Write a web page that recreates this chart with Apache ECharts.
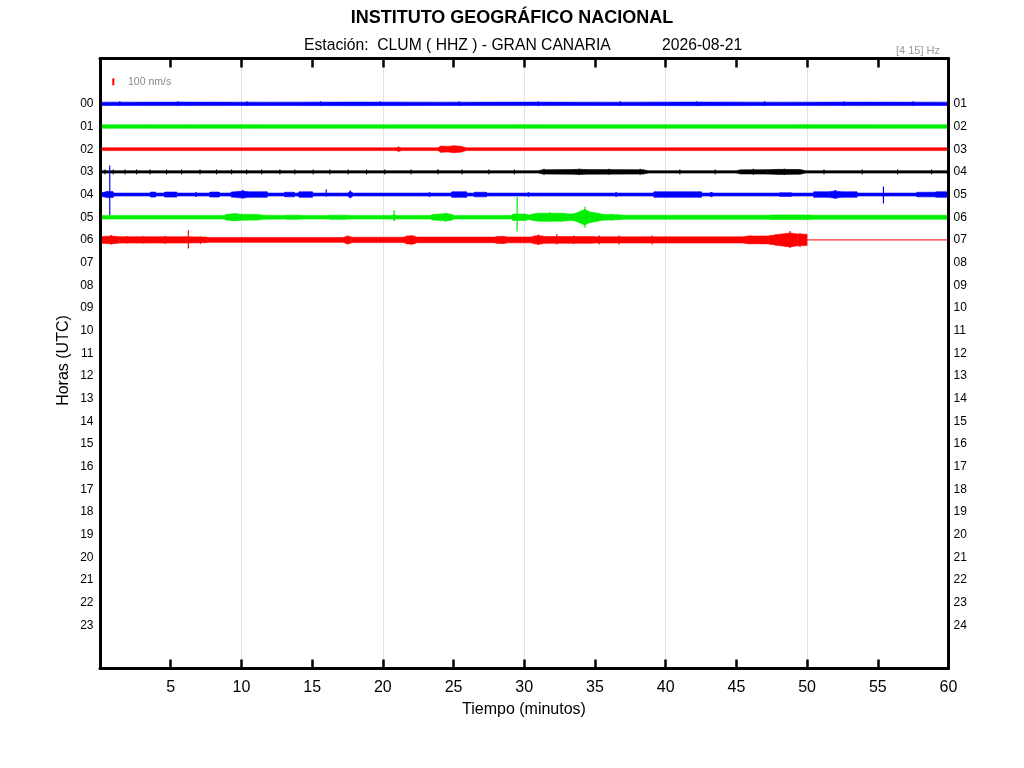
<!DOCTYPE html>
<html>
<head>
<meta charset="utf-8">
<script src="https://cdn.jsdelivr.net/npm/echarts/dist/echarts.min.js"></script>
<style>html,body{margin:0;padding:0;background:#fff}#c{width:1024px;height:768px}</style>
</head>
<body>
<div id="c"></div>
<script>
// ---- tick labels ----
const HOURS_LEFT = ['00','01','02','03','04','05','06','07','08','09','10','11','12','13','14','15','16','17','18','19','20','21','22','23'];
const HOURS_RIGHT = ['01','02','03','04','05','06','07','08','09','10','11','12','13','14','15','16','17','18','19','20','21','22','23','24'];

// ---- trace envelopes (dense core): [minute, upAmp nm/s, downAmp nm/s (optional)] ----
const ENV_00 = [[0,24],[6,25],[12,24],[18,26],[24,24],[30,25],[36,24],[42,26],[48,24],[54,25],[60,24]];
const ENV_01 = [[0,25],[10,26],[20,25],[30,26],[40,25],[50,26],[60,25]];
const ENV_02 = [[0,20],[21.0,20],[21.1,33],[21.3,20],[23.9,20],[24.1,45],[24.6,40],[25.0,50],[25.5,42],[25.9,20],[60,20]];
const ENV_03 = [[0,17],[31,17],[31.3,30],[33.4,33],[33.9,38],[34.3,33],[38.4,31],[38.8,17],[45,17],[45.3,29],[47.2,32],[48,36],[49.5,33],[49.9,17],[60,17]];
const ENV_04 = [[0,21],[0.5,43],[0.9,43],[1.0,21],[3.5,21],[3.6,36],[3.9,36],[4.0,21],[4.5,21],[4.6,36],[5.4,36],[5.5,21],[6.7,21],[6.8,29],[6.9,21],[7.7,21],[7.8,36],[8.4,36],[8.5,21],[9.2,21],[9.3,36],[10.1,50],[10.5,40],[11.8,40],[11.9,21],[13.0,21],[13.1,33],[13.7,33],[13.8,21],[14.0,21],[14.1,40],[15.0,40],[15.1,21],[17.5,21],[17.7,45],[17.9,21],[23.2,21],[23.3,29],[23.4,21],[24.8,21],[24.9,40],[25.9,40],[26.0,21],[26.4,21],[26.5,33],[27.3,33],[27.4,21],[30.2,21],[30.3,29],[30.4,21],[36.4,21],[36.5,29],[36.6,21],[39.1,21],[39.2,40],[42.5,40],[42.6,21],[43.1,21],[43.2,33],[43.4,21],[48.0,21],[48.1,27],[48.8,27],[49.0,21],[50.4,21],[50.5,40],[51.5,40],[52.0,52],[52.4,40],[53.5,40],[53.6,21],[57.7,21],[57.8,33],[59.0,33],[59.2,40],[60,40]];
const ENV_05 = [[0,26],[8.8,26],[8.9,40],[9.4,50],[9.7,50],[9.9,43],[11.2,40],[11.5,30],[13.1,26],[13.2,30],[14.1,30],[14.2,26],[16.2,26],[16.3,30],[17.4,30],[17.5,26],[20.7,26],[20.8,43],[20.9,26],[23.4,26],[23.5,40],[24.5,52],[24.9,40],[25.0,26],[29.1,26],[29.2,45],[30.1,45],[30.3,32],[30.6,45],[31.0,57],[32.6,57],[33.3,45],[33.6,55],[33.9,78],[34.27,112],[34.6,80],[35.0,64],[35.3,52],[35.5,42],[36.7,35],[37.0,29],[47.4,29],[47.5,33],[50.2,33],[50.3,29],[60,29]];
const ENV_06 = [[0,45],[0.8,57],[1.4,45],[6.1,45],[7.5,40],[7.6,35],[17.2,35],[17.4,50],[17.7,50],[17.8,38],[21.5,38],[21.7,57],[22.2,57],[22.4,40],[27.9,40],[28.1,50],[28.6,50],[28.8,42],[30.5,42],[30.7,55],[31.0,62],[31.5,48],[34.8,48],[35.0,44],[45.5,44],[45.8,55],[47.3,57],[47.8,75],[48.8,100],[49.3,85],[50.0,80]];

// ---- isolated spikes / peaks: [minute, upAmp nm/s, downAmp nm/s] ----
const SPK_00 = [[1.4,36,29],[5.5,36,29],[10.4,36,29],[15.6,36,29],[19.8,36,29],[25.4,36,29],[31.0,36,29],[36.8,36,29],[42.2,36,29],[47.0,36,29],[52.6,36,29],[57.5,36,29]];
const SPK_03 = [[0.35,33,33],[0.94,33,33],[1.77,33,33],[2.59,33,33],[3.53,33,33],[4.71,33,33],[5.77,33,33],[7.07,33,33],[8.24,33,33],[9.3,33,33],[10.37,33,33],[11.43,33,33],[12.72,33,33],[13.78,33,33],[15.08,33,33],[16.25,33,33],[17.55,33,33],[18.85,33,33],[20.14,33,33],[22.0,33,33],[23.9,36,33],[25.6,33,33],[27.5,33,33],[29.3,33,33],[31.4,43,40],[33.9,45,43],[36.0,43,40],[38.2,43,40],[41.0,33,33],[43.5,33,33],[46.2,43,40],[48.4,45,43],[51.2,33,33],[53.9,33,33],[56.4,33,33],[58.8,33,33]];
const SPK_04 = [[0.69,415,300],[10.1,64,57],[16.0,71,29],[17.7,57,50],[52.0,64,64],[55.4,114,129]];
const SPK_05 = [[20.8,100,57],[24.45,64,64],[29.5,292,204],[31.8,71,64],[32.8,64,57],[34.3,150,150],[36.2,50,50]];
const SPK_06 = [[0.8,71,64],[1.9,57,50],[3.1,57,50],[4.6,57,57],[6.25,139,124],[7.1,50,57],[17.5,64,64],[22.0,71,71],[28.5,57,57],[31.0,79,71],[32.3,86,64],[33.5,64,57],[35.3,64,64],[36.7,64,64],[39.05,64,64],[46.0,64,57],[47.4,71,64],[48.8,129,114],[49.5,100,100]];

// ---- flat remainder of hour 06 (no data yet) ----
const TAIL_06 = [[50,6],[60,6]];

const TRACES = [
  {row:0, env:ENV_00, spk:SPK_00},
  {row:1, env:ENV_01, spk:[]},
  {row:2, env:ENV_02, spk:[]},
  {row:3, env:ENV_03, spk:SPK_03},
  {row:4, env:ENV_04, spk:SPK_04},
  {row:5, env:ENV_05, spk:SPK_05},
  {row:6, env:ENV_06, spk:SPK_06}
];
const TRACE_COLORS = ['#0000ff','#00ee00','#ff0000','#000000','#0000ff','#00ee00','#ff0000'];
const NMS_PER_ROW = 324; // 100 nm/s bar = 7 px, one hour row = 22.68 px

const FONT = "'Liberation Sans', Arial, Helvetica, sans-serif";

function envSeries(env, row, color) {
  const data = [];
  for (let i = 0; i < env.length - 1; i++) {
    const a = env[i], b = env[i + 1];
    data.push([a[0], b[0], row, a[1], a.length > 2 ? a[2] : a[1], b[1], b.length > 2 ? b[2] : b[1]]);
  }
  return {
    type: 'custom', xAxisIndex: 0, yAxisIndex: 0, silent: true, clip: true, z: 2,
    encode: {x: [0, 1], y: 2},
    data: data,
    renderItem: function (params, api) {
      const t0 = api.value(0), t1 = api.value(1), r = api.value(2);
      const u0 = api.value(3) / NMS_PER_ROW, d0 = api.value(4) / NMS_PER_ROW;
      const u1 = api.value(5) / NMS_PER_ROW, d1 = api.value(6) / NMS_PER_ROW;
      const pts = [api.coord([t0, r - u0]), api.coord([t1, r - u1]), api.coord([t1, r + d1]), api.coord([t0, r + d0])];
      return {type: 'polygon', shape: {points: pts}, style: {fill: color, stroke: color, lineWidth: 0.6}};
    }
  };
}
function spikeSeries(spk, row, color) {
  return {
    type: 'custom', xAxisIndex: 0, yAxisIndex: 0, silent: true, clip: true, z: 2,
    encode: {x: 0, y: 1},
    data: spk.map(s => [s[0], row, s[1], s[2]]),
    renderItem: function (params, api) {
      const t = api.value(0), r = api.value(1);
      const p1 = api.coord([t, r - api.value(2) / NMS_PER_ROW]);
      const p2 = api.coord([t, r + api.value(3) / NMS_PER_ROW]);
      return {type: 'line', shape: {x1: p1[0], y1: p1[1], x2: p2[0], y2: p2[1]}, style: {stroke: color, lineWidth: 1.2}};
    }
  };
}

const series = [];
TRACES.forEach((tr, i) => {
  series.push(envSeries(tr.env, tr.row, TRACE_COLORS[i]));
  if (tr.spk.length) series.push(spikeSeries(tr.spk, tr.row, TRACE_COLORS[i]));
});
series.push({type: 'line', xAxisIndex: 0, yAxisIndex: 0, data: TAIL_06, symbol: 'none', silent: true, z: 2,
  lineStyle: {color: '#ff0000', width: 1}});

function hourLabel(arr) {
  return function (v) {
    const k = Math.round(v);
    if (Math.abs(v - k) > 1e-6 || k < 0 || k >= arr.length) return '';
    return arr[k];
  };
}

const FRAME = {show: true, onZero: false, lineStyle: {color: '#000', width: 3}};
const TICK = {show: true, inside: true, length: 9, lineStyle: {color: '#000', width: 2.5}};

const chart = echarts.init(document.getElementById('c'), null, {renderer: 'canvas'});
chart.setOption({
  animation: false,
  backgroundColor: '#ffffff',
  grid: {left: 100, right: 75.5, top: 58.5, bottom: 99.5, show: false},
  xAxis: [
    {type: 'value', position: 'bottom', min: 0, max: 60, interval: 5, z: 10,
      axisLine: FRAME, splitLine: {show: false}, axisTick: TICK,
      axisLabel: {show: true, margin: 11, fontSize: 16, color: '#000', fontFamily: FONT,
        formatter: v => (v === 0 ? '' : String(v))}},
    {type: 'value', position: 'top', min: 0, max: 60, interval: 5, z: 10,
      axisLine: FRAME, splitLine: {show: false}, axisTick: TICK,
      axisLabel: {show: false}},
    {type: 'value', position: 'bottom', min: 0, max: 60, interval: 10, z: 0,
      axisLine: {show: false, onZero: false}, axisTick: {show: false}, axisLabel: {show: false},
      splitLine: {show: true, lineStyle: {color: '#e2e2e2', width: 1}}}
  ],
  yAxis: [
    {type: 'value', position: 'left', inverse: true, min: -2, max: 24.9, interval: 1, z: 10,
      axisLine: FRAME, axisTick: {show: false}, splitLine: {show: false},
      axisLabel: {margin: 6.5, fontSize: 12, color: '#000', fontFamily: FONT, showMaxLabel: false, formatter: hourLabel(HOURS_LEFT)}},
    {type: 'value', position: 'right', inverse: true, min: -2, max: 24.9, interval: 1, z: 10,
      axisLine: FRAME, axisTick: {show: false}, splitLine: {show: false},
      axisLabel: {margin: 5, fontSize: 12, color: '#000', fontFamily: FONT, showMaxLabel: false, formatter: hourLabel(HOURS_RIGHT)}}
  ],
  graphic: [
    {type: 'text', left: 'center', top: 9, style: {text: 'INSTITUTO GEOGRÁFICO NACIONAL', font: "bold 18px " + FONT, fill: '#000'}},
    {type: 'text', x: 304, y: 46, style: {text: 'Estación:  CLUM ( HHZ ) - GRAN CANARIA', font: "15.7px " + FONT, fill: '#000', textVerticalAlign: 'middle'}},
    {type: 'text', x: 662, y: 46, style: {text: '2026-08-21', font: "15.7px " + FONT, fill: '#000', textVerticalAlign: 'middle'}},
    {type: 'text', x: 940, y: 50.5, style: {text: '[4 15] Hz', font: "11px " + FONT, fill: '#999', textAlign: 'right', textVerticalAlign: 'middle'}},
    {type: 'rect', shape: {x: 112.3, y: 78.3, width: 2, height: 7}, style: {fill: '#ff0000'}},
    {type: 'text', x: 128, y: 82, style: {text: '100 nm/s', font: "10.5px " + FONT, fill: '#888', textVerticalAlign: 'middle'}},
    {type: 'text', x: 524, y: 709.5, style: {text: 'Tiempo (minutos)', font: "16px " + FONT, fill: '#000', textAlign: 'center', textVerticalAlign: 'middle'}},
    {type: 'text', x: 63.5, y: 360.5, rotation: Math.PI / 2, style: {text: 'Horas (UTC)', font: "16px " + FONT, fill: '#000', textAlign: 'center', textVerticalAlign: 'middle'}}
  ],
  series: series
});
</script>
</body>
</html>
